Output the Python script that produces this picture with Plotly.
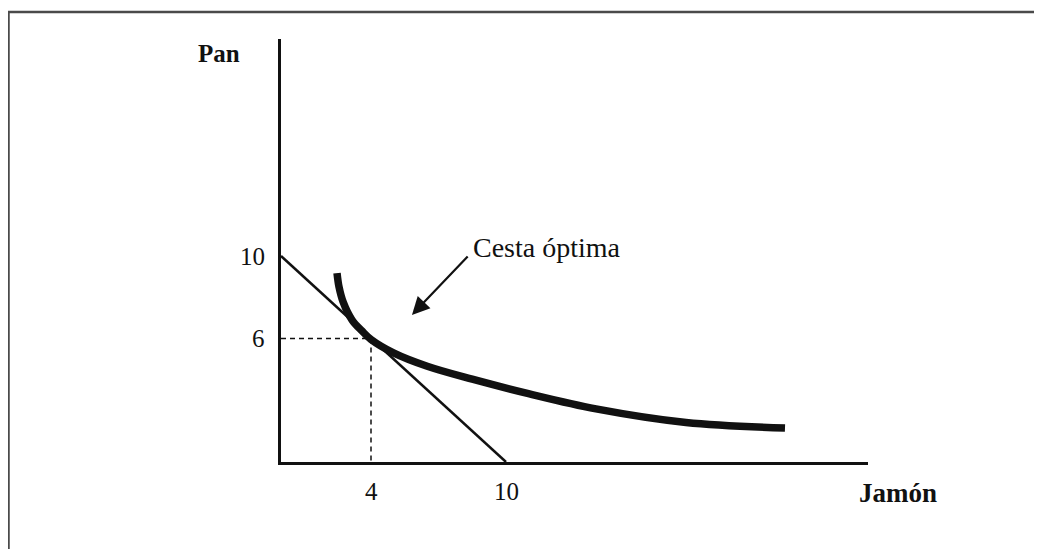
import plotly.graph_objects as go

# ---- data ----
budget_x = [0, 10]
budget_y = [10, 0]
optimum_x = 4
optimum_y = 6
curve_x = [2.49, 2.58, 2.76, 3.16, 3.60, 4.0, 5.0, 6.5, 8.5, 11.0, 14.0, 18.0, 22.4]
curve_y = [9.17, 8.49, 7.77, 6.89, 6.36, 5.95, 5.30, 4.65, 4.02, 3.32, 2.58, 1.92, 1.65]
y_tick_vals = [10, 6]
y_tick_text = ["10", "6"]
x_tick_vals = [4, 10]
x_tick_text = ["4", "10"]
y_label = "Pan"
x_label = "Jamón"
note_text = "Cesta óptima"

OFF = 8  # page body margin in the browser
W, H = 1042 - OFF, 549 - OFF
L, T = 281 - OFF, 39 - OFF
pw, ph = 587, 423
R, B = W - L - pw, H - T - ph
px_per_x = 22.5
px_per_y = 20.6
xmax = pw / px_per_x
ymax = ph / px_per_y

def px2paper(px, py):
    # screen pixel -> paper coordinates
    return (px - OFF - L) / pw, (T + ph - (py - OFF)) / ph

serif = "Liberation Serif, Times New Roman, serif"
ink = "#111111"

fig = go.Figure()

# dashed guides to optimum
fig.add_trace(go.Scatter(x=[0, optimum_x, optimum_x], y=[optimum_y, optimum_y, 0],
                         mode="lines", line=dict(color=ink, width=1.5, dash="5px,4px"),
                         hoverinfo="skip", showlegend=False))
# budget line
fig.add_trace(go.Scatter(x=budget_x, y=budget_y, mode="lines",
                         line=dict(color=ink, width=2.5), showlegend=False))
# indifference curve
fig.add_trace(go.Scatter(x=curve_x, y=curve_y, mode="lines",
                         line=dict(color=ink, width=7.5, shape="spline", smoothing=1.0),
                         showlegend=False))

fig.update_xaxes(range=[0, xmax], showgrid=False, zeroline=False, showticklabels=False,
                 showline=True, linecolor=ink, linewidth=3)
fig.update_yaxes(range=[0, ymax], showgrid=False, zeroline=False, showticklabels=False,
                 showline=True, linecolor=ink, linewidth=3)

ann = []
for v, t in zip(y_tick_vals, y_tick_text):
    ann.append(dict(x=0, y=v, xref="x", yref="y", text=t, showarrow=False,
                    xanchor="right", yanchor="middle", xshift=-14, yshift=0,
                    font=dict(family=serif, size=25, color=ink)))
for v, t in zip(x_tick_vals, x_tick_text):
    ann.append(dict(x=v, y=0, xref="x", yref="y", text=t, showarrow=False,
                    xanchor="center", yanchor="middle", yshift=-29,
                    font=dict(family=serif, size=25, color=ink)))

px_, py_ = px2paper(219, 53)
ann.append(dict(x=px_, y=py_, xref="paper", yref="paper", text="<b>%s</b>" % y_label,
                showarrow=False, xanchor="center", yanchor="middle",
                font=dict(family=serif, size=25, color=ink)))
px_, py_ = px2paper(898, 493)
ann.append(dict(x=px_, y=py_, xref="paper", yref="paper", text="<b>%s</b>" % x_label,
                showarrow=False, xanchor="center", yanchor="middle",
                font=dict(family=serif, size=27, color=ink)))

# arrow to optimum basket
ann.append(dict(x=5.82, y=7.14, ax=8.36, ay=10.05, xref="x", yref="y", axref="x", ayref="y",
                text="", showarrow=True, arrowhead=2, arrowsize=1.6, arrowwidth=2.2,
                arrowcolor=ink))
ann.append(dict(x=8.45, y=10.39, xref="x", yref="y", text=note_text, showarrow=False,
                xanchor="left", yanchor="middle",
                font=dict(family=serif, size=28, color=ink)))

# page frame (top and left edges)
x0, y0 = px2paper(4, 12)
x1, _ = px2paper(1050, 12)
xl, yb = px2paper(8.5, 560)
shapes = [
    dict(type="line", xref="paper", yref="paper", x0=x0, y0=y0, x1=x1, y1=y0,
         line=dict(color="#4a4a4a", width=2.5)),
    dict(type="line", xref="paper", yref="paper", x0=xl, y0=y0, x1=xl, y1=yb,
         line=dict(color="#4a4a4a", width=2.5)),
]

fig.update_layout(width=W, height=H, margin=dict(l=L, r=R, t=T, b=B),
                  paper_bgcolor="white", plot_bgcolor="white",
                  annotations=ann, shapes=shapes, showlegend=False)

fig.write_html("out.html")
